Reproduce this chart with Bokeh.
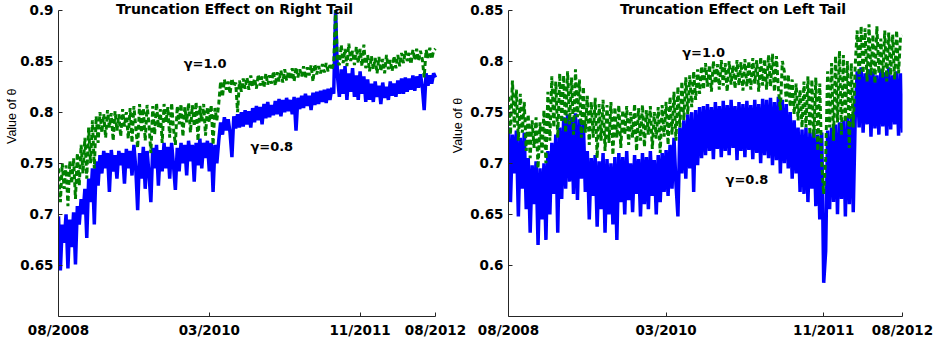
import math
from bokeh.plotting import figure
from bokeh.layouts import row
from bokeh.models import Range1d, FixedTicker, Label
from bokeh.embed import file_html
from bokeh.resources import INLINE

# ---------------- data (trading-day index 0..1000, step 5) ----------------
x_tick_pos = [0, 400, 800, 1000]
x_tick_labels = ["08/2008", "03/2010", "11/2011", "08/2012"]

left_yticks = [0.65, 0.7, 0.75, 0.8, 0.85, 0.9]
left_ytick_labels = ["0.65", "0.7", "0.75", "0.8", "0.85", "0.9"]
right_yticks = [0.6, 0.65, 0.7, 0.75, 0.8, 0.85]
right_ytick_labels = ["0.6", "0.65", "0.7", "0.75", "0.8", "0.85"]

# Right tail, gamma = 0.8 (blue)
right_tail_g08 = [
    0.698, 0.645, 0.690, 0.672, 0.700, 0.647, 0.695, 0.668, 0.702, 0.651,
    0.708, 0.690, 0.715, 0.700, 0.725, 0.677, 0.735, 0.712, 0.745, 0.690,
    0.752, 0.728, 0.758, 0.740, 0.762, 0.745, 0.760, 0.722, 0.763, 0.742,
    0.758, 0.735, 0.762, 0.748, 0.760, 0.730, 0.764, 0.745, 0.762, 0.738,
    0.768, 0.745, 0.704, 0.760, 0.735, 0.766, 0.725, 0.762, 0.740, 0.712,
    0.765, 0.745, 0.768, 0.728, 0.763, 0.742, 0.770, 0.745, 0.766, 0.735,
    0.770, 0.748, 0.724, 0.765, 0.742, 0.770, 0.750, 0.768, 0.738, 0.772,
    0.752, 0.768, 0.732, 0.770, 0.748, 0.774, 0.745, 0.770, 0.755, 0.772,
    0.742, 0.770, 0.722, 0.768, 0.750, 0.772, 0.790, 0.778, 0.795, 0.782,
    0.793, 0.780, 0.756, 0.796, 0.784, 0.798, 0.785, 0.800, 0.786, 0.802,
    0.788, 0.801, 0.785, 0.804, 0.790, 0.806, 0.792, 0.805, 0.788, 0.808,
    0.794, 0.810, 0.795, 0.807, 0.797, 0.811, 0.798, 0.813, 0.796, 0.812,
    0.800, 0.814, 0.801, 0.812, 0.798, 0.815, 0.782, 0.814, 0.803, 0.816,
    0.804, 0.818, 0.806, 0.816, 0.802, 0.819, 0.807, 0.820, 0.808, 0.821,
    0.810, 0.822, 0.809, 0.823, 0.812, 0.824, 0.818, 0.900, 0.835, 0.815,
    0.842, 0.818, 0.845, 0.812, 0.838, 0.820, 0.843, 0.815, 0.836, 0.812,
    0.840, 0.818, 0.835, 0.810, 0.832, 0.812, 0.828, 0.810, 0.830, 0.815,
    0.826, 0.808, 0.829, 0.814, 0.825, 0.812, 0.830, 0.816, 0.828, 0.815,
    0.831, 0.818, 0.833, 0.818, 0.834, 0.820, 0.833, 0.822, 0.836, 0.821,
    0.835, 0.824, 0.837, 0.825, 0.802, 0.838, 0.826, 0.836, 0.828, 0.838,
    0.834,
]
# Right tail, gamma = 1.0 (green)
right_tail_g10 = [
    0.745, 0.712, 0.750, 0.725, 0.748, 0.708, 0.752, 0.730, 0.755, 0.715,
    0.760, 0.728, 0.768, 0.740, 0.775, 0.735, 0.785, 0.750, 0.792, 0.745,
    0.796, 0.770, 0.800, 0.780, 0.798, 0.775, 0.802, 0.785, 0.799, 0.772,
    0.801, 0.782, 0.798, 0.776, 0.803, 0.786, 0.800, 0.774, 0.804, 0.770,
    0.806, 0.785, 0.765, 0.808, 0.780, 0.804, 0.772, 0.807, 0.788, 0.760,
    0.806, 0.778, 0.809, 0.785, 0.803, 0.770, 0.808, 0.790, 0.805, 0.775,
    0.809, 0.784, 0.768, 0.806, 0.788, 0.808, 0.776, 0.805, 0.790, 0.809,
    0.780, 0.807, 0.786, 0.810, 0.772, 0.806, 0.791, 0.808, 0.777, 0.805,
    0.790, 0.807, 0.768, 0.804, 0.792, 0.808, 0.830, 0.815, 0.832, 0.822,
    0.830, 0.818, 0.833, 0.825, 0.829, 0.800, 0.831, 0.820, 0.833, 0.823,
    0.834, 0.822, 0.836, 0.825, 0.833, 0.823, 0.837, 0.826, 0.835, 0.824,
    0.838, 0.827, 0.836, 0.828, 0.840, 0.826, 0.839, 0.830, 0.841, 0.829,
    0.842, 0.831, 0.840, 0.832, 0.843, 0.830, 0.844, 0.834, 0.842, 0.835,
    0.845, 0.833, 0.844, 0.836, 0.846, 0.830, 0.847, 0.837, 0.845, 0.838,
    0.847, 0.839, 0.848, 0.840, 0.846, 0.842, 0.848, 0.900, 0.850, 0.846,
    0.866, 0.848, 0.862, 0.845, 0.867, 0.850, 0.860, 0.846, 0.864, 0.848,
    0.862, 0.845, 0.866, 0.843, 0.856, 0.840, 0.855, 0.842, 0.853, 0.838,
    0.854, 0.840, 0.852, 0.838, 0.856, 0.842, 0.851, 0.840, 0.855, 0.843,
    0.856, 0.845, 0.858, 0.848, 0.860, 0.850, 0.858, 0.847, 0.861, 0.851,
    0.862, 0.850, 0.860, 0.852, 0.834, 0.861, 0.853, 0.863, 0.852, 0.860,
    0.862,
]
# Left tail, gamma = 0.8 (blue)
left_tail_g08 = [
    0.735, 0.662, 0.728, 0.690, 0.732, 0.648, 0.725, 0.675, 0.730, 0.655,
    0.705, 0.632, 0.698, 0.660, 0.702, 0.620, 0.695, 0.645, 0.700, 0.625,
    0.712, 0.650, 0.720, 0.670, 0.728, 0.632, 0.735, 0.665, 0.745, 0.675,
    0.748, 0.682, 0.745, 0.670, 0.749, 0.664, 0.743, 0.685, 0.740, 0.672,
    0.712, 0.645, 0.705, 0.668, 0.708, 0.638, 0.702, 0.655, 0.710, 0.632,
    0.704, 0.650, 0.700, 0.640, 0.706, 0.625, 0.710, 0.662, 0.706, 0.650,
    0.712, 0.664, 0.700, 0.652, 0.708, 0.670, 0.704, 0.648, 0.710, 0.660,
    0.706, 0.655, 0.712, 0.668, 0.703, 0.650, 0.708, 0.662, 0.710, 0.672,
    0.713, 0.668, 0.718, 0.675, 0.725, 0.680, 0.648, 0.735, 0.690, 0.742,
    0.685, 0.748, 0.695, 0.750, 0.672, 0.752, 0.698, 0.755, 0.705, 0.756,
    0.708, 0.758, 0.712, 0.755, 0.704, 0.760, 0.714, 0.756, 0.706, 0.761,
    0.712, 0.757, 0.708, 0.762, 0.715, 0.756, 0.703, 0.760, 0.712, 0.758,
    0.706, 0.761, 0.713, 0.757, 0.704, 0.762, 0.710, 0.758, 0.700, 0.763,
    0.708, 0.762, 0.705, 0.764, 0.698, 0.760, 0.703, 0.765, 0.690, 0.762,
    0.700, 0.758, 0.695, 0.750, 0.685, 0.742, 0.690, 0.735, 0.672, 0.733,
    0.670, 0.735, 0.662, 0.730, 0.675, 0.733, 0.658, 0.728, 0.645, 0.730,
    0.583, 0.614, 0.732, 0.655, 0.735, 0.662, 0.738, 0.650, 0.740, 0.665,
    0.742, 0.648, 0.745, 0.660, 0.746, 0.652, 0.745, 0.790, 0.735, 0.794,
    0.730, 0.788, 0.738, 0.792, 0.726, 0.790, 0.734, 0.786, 0.728, 0.792,
    0.736, 0.789, 0.727, 0.794, 0.733, 0.786, 0.738, 0.790, 0.727, 0.788,
    0.730,
]
# Left tail, gamma = 1.0 (green)
left_tail_g10 = [
    0.765, 0.728, 0.781, 0.735, 0.772, 0.722, 0.768, 0.730, 0.760, 0.712,
    0.748, 0.705, 0.742, 0.715, 0.745, 0.695, 0.740, 0.710, 0.752, 0.700,
    0.770, 0.722, 0.785, 0.735, 0.780, 0.725, 0.788, 0.740, 0.786, 0.730,
    0.790, 0.738, 0.784, 0.728, 0.792, 0.745, 0.782, 0.725, 0.775, 0.730,
    0.766, 0.718, 0.760, 0.725, 0.764, 0.705, 0.758, 0.722, 0.762, 0.712,
    0.757, 0.720, 0.760, 0.708, 0.755, 0.725, 0.757, 0.715, 0.752, 0.728,
    0.756, 0.718, 0.750, 0.725, 0.758, 0.712, 0.754, 0.722, 0.757, 0.716,
    0.752, 0.728, 0.756, 0.714, 0.750, 0.724, 0.755, 0.710, 0.757, 0.726,
    0.760, 0.718, 0.765, 0.728, 0.770, 0.722, 0.775, 0.735, 0.780, 0.742,
    0.784, 0.748, 0.786, 0.755, 0.790, 0.762, 0.792, 0.768, 0.795, 0.772,
    0.798, 0.775, 0.796, 0.770, 0.800, 0.778, 0.797, 0.772, 0.801, 0.776,
    0.798, 0.770, 0.800, 0.777, 0.796, 0.773, 0.801, 0.776, 0.799, 0.771,
    0.802, 0.775, 0.800, 0.772, 0.803, 0.778, 0.801, 0.770, 0.804, 0.776,
    0.802, 0.772, 0.806, 0.775, 0.807, 0.770, 0.805, 0.773, 0.752, 0.800,
    0.790, 0.760, 0.787, 0.755, 0.782, 0.748, 0.778, 0.742, 0.772, 0.735,
    0.780, 0.735, 0.785, 0.728, 0.782, 0.725, 0.784, 0.712, 0.778, 0.700,
    0.670, 0.705, 0.790, 0.735, 0.798, 0.722, 0.805, 0.740, 0.810, 0.728,
    0.806, 0.740, 0.800, 0.715, 0.798, 0.735, 0.796, 0.830, 0.782, 0.834,
    0.788, 0.832, 0.780, 0.836, 0.786, 0.826, 0.778, 0.834, 0.788, 0.822,
    0.784, 0.830, 0.780, 0.828, 0.786, 0.826, 0.782, 0.830, 0.788, 0.824,
    0.825,
]
t_index = [5 * i for i in range(len(right_tail_g08))]

BLUE = "#0000ff"
GREEN = "#008000"
AXIS_COLOR = "#262626"
BOLD_FONT = "DejaVu Sans"
LABEL_FONT = "Liberation Sans"
Y_LABEL = "Value of θ"


def style_axes(p, yticks, ylabels, ybounds):
    p.xaxis.ticker = FixedTicker(ticks=x_tick_pos)
    p.xaxis.major_label_overrides = {k: v for k, v in zip(x_tick_pos, x_tick_labels)}
    p.xaxis.bounds = (0, 1000)
    p.yaxis.ticker = FixedTicker(ticks=yticks)
    p.yaxis.major_label_overrides = {k: v for k, v in zip(yticks, ylabels)}
    p.yaxis.bounds = ybounds
    for ax in (p.xaxis, p.yaxis):
        ax.axis_line_color = AXIS_COLOR
        ax.axis_line_width = 1
        ax.major_tick_line_color = AXIS_COLOR
        ax.major_tick_in = 4
        ax.major_tick_out = 0
        ax.minor_tick_line_color = None
        ax.major_label_text_font = BOLD_FONT
        ax.major_label_text_font_style = "bold"
        ax.major_label_text_color = "#000000"
        ax.major_label_standoff = 5
        ax.major_label_text_font_size = "13.5px"
    p.xgrid.grid_line_color = None
    p.ygrid.grid_line_color = None
    p.outline_line_color = None
    p.background_fill_color = "white"
    p.border_fill_color = "white"


def add_text(p, x, y, txt, size="13px", align="left", bold=True, angle=0.0, font=BOLD_FONT):
    p.add_layout(Label(x=x, y=y, text=txt, text_font=font, text_font_size=size,
                       text_font_style="bold" if bold else "normal", text_align=align,
                       text_baseline="middle", angle=angle, text_color="#000000"))


PAD = 9.5 / 1021.0          # room above the top tick for the title
X_PER_PX = 1000.0 / 377.0   # index units per pixel in the left panel

# ---------------- strip holding the left y label ----------------
p0 = figure(width=17, height=341, output_backend="svg", toolbar_location=None,
            x_range=Range1d(0, 17), y_range=Range1d(0, 341),
            min_border_left=0, min_border_right=0, min_border_top=0, min_border_bottom=0)
p0.axis.visible = False
p0.grid.visible = False
p0.outline_line_color = None
add_text(p0, 11, 341 - 125, Y_LABEL, size="12.5px", align="center", bold=False,
         angle=math.pi / 2, font=LABEL_FONT)

# ---------------- left panel ----------------
p1 = figure(width=449, height=341, output_backend="svg", toolbar_location=None,
            x_range=Range1d(0, 408 * X_PER_PX), y_range=Range1d(0.6, 0.9 + PAD),
            min_border_left=41, min_border_right=0, min_border_top=0, min_border_bottom=25)
style_axes(p1, left_yticks, left_ytick_labels, (0.6, 0.9))
p1.line(t_index, right_tail_g08, line_color=BLUE, line_width=3.5, line_join="bevel")
p1.line(t_index, right_tail_g10, line_color=GREEN, line_width=3, line_dash="5 3",
        line_join="bevel")
add_text(p1, 467, 0.9 + 1.5 / 1021.0, "Truncation Effect on Right Tail", size="14px",
         align="center")
add_text(p1, 332, 0.848, "γ=1.0")
add_text(p1, 509, 0.766, "γ=0.8")
# y label of the right panel sits in the gap between the two panels
add_text(p1, 399 * X_PER_PX, 0.9 - 115.5 / 1021.0, Y_LABEL, size="12.5px", align="center",
         bold=False, angle=math.pi / 2, font=LABEL_FONT)

# ---------------- right panel ----------------
p2 = figure(width=470, height=341, output_backend="svg", toolbar_location=None,
            x_range=Range1d(0, 1000), y_range=Range1d(0.55, 0.85 + PAD),
            min_border_left=42, min_border_right=34, min_border_top=0, min_border_bottom=25)
style_axes(p2, right_yticks, right_ytick_labels, (0.55, 0.85))
p2.line(t_index, left_tail_g08, line_color=BLUE, line_width=3.5, line_join="bevel")
p2.line(t_index, left_tail_g10, line_color=GREEN, line_width=3, line_dash="5 3",
        line_join="bevel")
add_text(p2, 570, 0.85 + 1.5 / 1021.0, "Truncation Effect on Left Tail", size="14px",
         align="center")
add_text(p2, 441, 0.808, "γ=1.0")
add_text(p2, 551, 0.684, "γ=0.8")

layout = row(p0, p1, p2, spacing=0)
open("out.html", "w").write(file_html(layout, INLINE))
